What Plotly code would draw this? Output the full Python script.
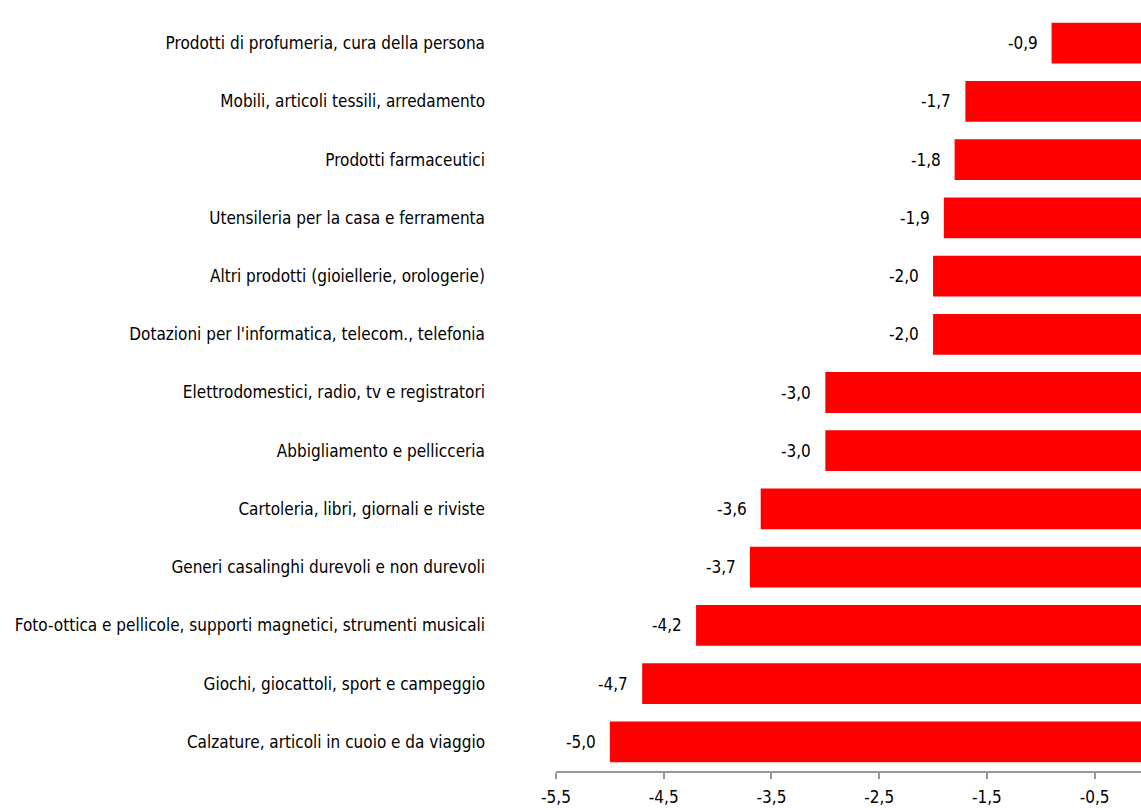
import plotly.graph_objects as go

categories = [
    "Prodotti di profumeria, cura della persona",
    "Mobili, articoli tessili, arredamento",
    "Prodotti farmaceutici",
    "Utensileria per la casa e ferramenta",
    "Altri prodotti (gioiellerie, orologerie)",
    "Dotazioni per l'informatica, telecom., telefonia",
    "Elettrodomestici, radio, tv e registratori",
    "Abbigliamento e pellicceria",
    "Cartoleria, libri, giornali e riviste",
    "Generi casalinghi durevoli e non durevoli",
    "Foto-ottica e pellicole, supporti magnetici, strumenti musicali",
    "Giochi, giocattoli, sport e campeggio",
    "Calzature, articoli in cuoio e da viaggio",
]
values = [-0.9, -1.7, -1.8, -1.9, -2.0, -2.0, -3.0, -3.0, -3.6, -3.7, -4.2, -4.7, -5.0]
tick_vals = [-5.5, -4.5, -3.5, -2.5, -1.5, -0.5]

FONT = "Liberation Sans Narrow, Arial Narrow, DejaVu Sans Condensed, sans-serif"


def fmt(v):
    return f"{v:.1f}".replace(".", ",")


fig = go.Figure(
    go.Bar(
        x=values,
        y=categories,
        orientation="h",
        marker=dict(color="#ff0000", line=dict(width=0)),
        hoverinfo="x+y",
    )
)

for cat, val in zip(categories, values):
    fig.add_annotation(
        x=val,
        y=cat,
        xref="x",
        yref="y",
        text=fmt(val),
        showarrow=False,
        xanchor="right",
        yanchor="middle",
        xshift=-12,
        font=dict(family=FONT, size=17, color="#000000"),
    )

fig.update_layout(
    width=1141,
    height=808,
    margin=dict(l=556, r=0, t=14, b=37),
    paper_bgcolor="white",
    plot_bgcolor="white",
    separators=",.",
    bargap=0.3,
    showlegend=False,
    font=dict(family=FONT, size=17, color="#000000"),
)

fig.update_yaxes(
    autorange="reversed",
    showgrid=False,
    showline=False,
    ticks="",
    ticklabelstandoff=70,
    tickfont=dict(family=FONT, size=17, color="#000000"),
)

fig.update_xaxes(
    range=[-5.5, -0.07],
    tickvals=tick_vals,
    ticktext=[fmt(v) for v in tick_vals],
    showgrid=False,
    zeroline=False,
    showline=True,
    linecolor="#969696",
    linewidth=1.5,
    ticks="outside",
    ticklen=6,
    tickcolor="#969696",
    tickwidth=1.5,
    ticklabelstandoff=4,
    tickfont=dict(family=FONT, size=17, color="#000000"),
)

fig.write_html(
    "out.html",
    config={"displayModeBar": False},
    post_script="document.body.style.margin='0';document.body.style.overflow='hidden';",
)
